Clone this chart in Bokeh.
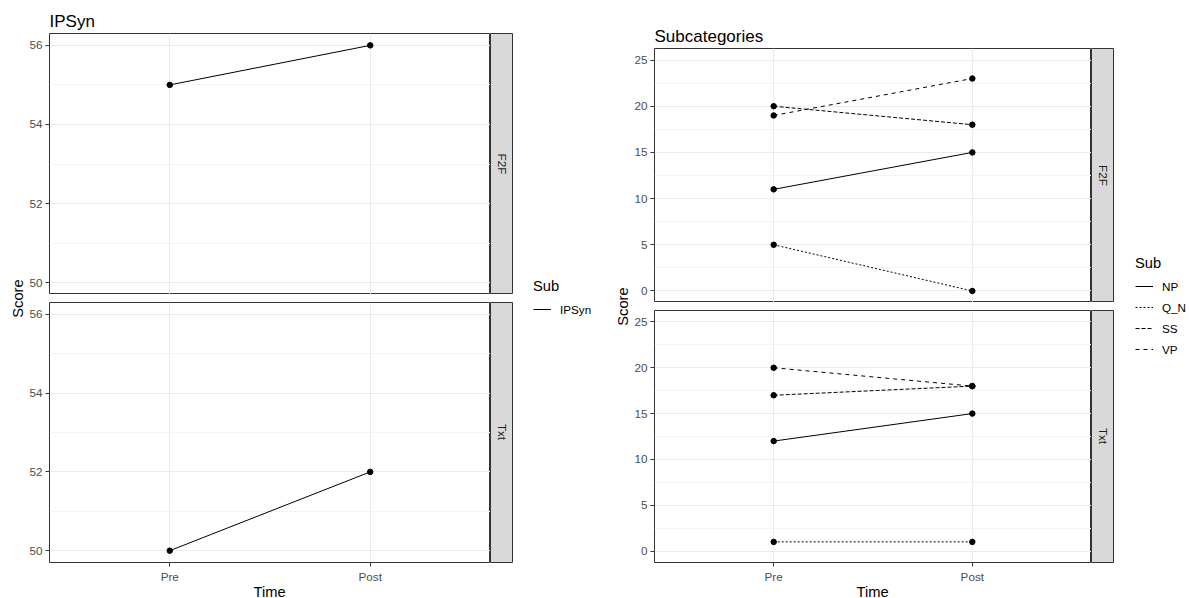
import math
from bokeh.plotting import figure
from bokeh.models import (FactorRange, Range1d, FixedTicker, Legend, LegendItem,
                          Spacer, Label)
from bokeh.layouts import row, column
from bokeh.embed import file_html
from bokeh.resources import INLINE
from bokeh.core.properties import value

# ---------------- data ----------------
times = ["Pre", "Post"]
facets = ["F2F", "Txt"]

ipsyn_f2f = [55, 56]
ipsyn_txt = [50, 52]

subs = ["NP", "Q_N", "SS", "VP"]
np_f2f = [11, 15]
np_txt = [12, 15]
qn_f2f = [5, 0]
qn_txt = [1, 1]
ss_f2f = [20, 18]
ss_txt = [17, 18]
vp_f2f = [19, 23]
vp_txt = [20, 18]

left_ticks = [50, 52, 54, 56]
left_minor = [51, 53, 55]
right_ticks = [0, 5, 10, 15, 20, 25]
right_minor = [2.5, 7.5, 12.5, 17.5, 22.5]

dashes = {"IPSyn": "solid", "NP": "solid", "Q_N": "2 2", "SS": "4 2", "VP": "4 4"}

FONT = "Liberation Sans"
LW = 1.0


def panel(w, h, yr, ticks, minor, top=0, bottom=0, left=22, show_x=False, title=None):
    p = figure(width=w, height=h,
               x_range=FactorRange(*times, range_padding=0.1, range_padding_units="absolute"),
               y_range=Range1d(*yr), output_backend="svg", toolbar_location=None, tools="",
               min_border_left=left, min_border_right=0, min_border_top=top,
               min_border_bottom=bottom, title=title)
    p.yaxis.ticker = FixedTicker(ticks=ticks, minor_ticks=minor)
    p.axis.axis_line_color = None
    p.axis.major_tick_line_color = "#333333"
    p.axis.major_tick_out = 4
    p.axis.major_tick_in = 0
    p.axis.minor_tick_line_color = None
    p.axis.major_label_text_font = FONT
    p.axis.major_label_text_font_size = "11.7px"
    p.axis.major_label_text_color = "#4D4D4D"
    p.axis.major_label_standoff = 3
    p.xgrid.grid_line_color = "#EBEBEB"
    p.ygrid.grid_line_color = "#EBEBEB"
    p.ygrid.minor_grid_line_color = "#F3F3F3"
    p.outline_line_color = "#333333"
    p.outline_line_width = 1
    p.background_fill_color = "white"
    p.border_fill_color = "white"
    if not show_x:
        p.xaxis.visible = False
    if title is not None:
        p.title.text_font = FONT
        p.title.text_font_size = "17px"
        p.title.text_font_style = "normal"
        p.title.text_color = "black"
        p.title.align = "left"
        p.title.offset = 0
        p.title.standoff = 5
    return p


def draw(p, series):
    for name, vals in series:
        p.line(x=times, y=vals, line_color="black", line_width=LW, line_dash=dashes[name])
        p.scatter(x=times, y=vals, size=5.5, color="black")


def blank(w, h):
    s = figure(width=w, height=h, x_range=Range1d(0, 1), y_range=Range1d(0, 1),
               x_axis_type=None, y_axis_type=None, output_backend="svg",
               toolbar_location=None, tools="",
               min_border_left=0, min_border_right=0, min_border_top=0, min_border_bottom=0)
    s.outline_line_color = None
    s.border_fill_color = "white"
    s.background_fill_color = "white"
    return s


def strip(h, label, top=0, bottom=0):
    s = figure(width=23, height=h, x_range=Range1d(0, 1), y_range=Range1d(0, 1),
               x_axis_type=None, y_axis_type=None, output_backend="svg",
               toolbar_location=None, tools="",
               min_border_left=0, min_border_right=0, min_border_top=top,
               min_border_bottom=bottom)
    s.background_fill_color = "#D9D9D9"
    s.border_fill_color = "white"
    s.outline_line_color = "#333333"
    s.outline_line_width = 1
    s.add_layout(Label(x=11.5, y=(h - top - bottom) / 2, x_units="screen", y_units="screen",
                       text=label, angle=-math.pi / 2, text_align="center",
                       text_baseline="middle", text_font=FONT, text_font_size="11.7px",
                       text_color="#1A1A1A"))
    return s


def text_fig(w, h, x, y, text, angle=0.0):
    s = blank(w, h)
    s.add_layout(Label(x=x, y=y, x_units="screen", y_units="screen", text=text,
                       angle=angle, text_align="center", text_baseline="middle",
                       text_font=FONT, text_font_size="14.7px", text_color="black"))
    return s


def legend_fig(w, h, names, loc):
    lg = blank(w, h)
    items = []
    for n in names:
        # legend key only: the line lies outside the visible range
        r = lg.line(x=[5, 6], y=[5, 6], line_color="black", line_width=LW, line_dash=dashes[n])
        items.append(LegendItem(label=n, renderers=[r]))
    leg = Legend(items=items, location=loc, title="Sub",
                 title_text_font=FONT, title_text_font_size="14.7px",
                 title_text_font_style="normal", title_text_color="black",
                 title_standoff=5,
                 label_text_font=FONT, label_text_font_size="11.7px",
                 label_text_color="black",
                 glyph_width=18, glyph_height=20, label_height=20, label_standoff=9,
                 spacing=1, padding=0, margin=0, border_line_color=None,
                 background_fill_alpha=0)
    lg.add_layout(leg)
    return lg


# ---------------- left plot: IPSyn ----------------
lyr = (49.7, 56.3)
LF = panel(464, 294, lyr, left_ticks, left_minor, top=33, title="IPSyn")
draw(LF, [("IPSyn", ipsyn_f2f)])
LT = panel(464, 283, lyr, left_ticks, left_minor, bottom=22, show_x=True)
draw(LT, [("IPSyn", ipsyn_txt)])
LS1 = strip(294, facets[0], top=33)
LS2 = strip(283, facets[1], bottom=22)
timeL = text_fig(487, 13, 243, 7, "Time")
left_col = column(row(LF, LS1), Spacer(width=487, height=8), row(LT, LS2), timeL)

# ---------------- right plot: Subcategories ----------------
ryr = (-1.25, 26.25)
RF = panel(460, 302, ryr, right_ticks, right_minor, top=48, title="Subcategories")
draw(RF, [("NP", np_f2f), ("Q_N", qn_f2f), ("SS", ss_f2f), ("VP", vp_f2f)])
RT = panel(460, 275, ryr, right_ticks, right_minor, bottom=22, show_x=True)
draw(RT, [("NP", np_txt), ("Q_N", qn_txt), ("SS", ss_txt), ("VP", vp_txt)])
RS1 = strip(302, facets[0], top=48)
RS2 = strip(275, facets[1], bottom=22)
timeR = text_fig(483, 13, 241, 7, "Time")
right_col = column(row(RF, RS1), Spacer(width=483, height=8), row(RT, RS2), timeR)

scoreL = text_fig(26, 598, 17, 598 - 298, "Score", angle=math.pi / 2)
scoreR = text_fig(21, 598, 12, 598 - 306, "Score", angle=math.pi / 2)

legL = legend_fig(97, 598, ["IPSyn"], (20, 598 - 319))
legR = legend_fig(75, 598, subs, (21, 598 - 359))

layout = row(scoreL, left_col, legL, scoreR, right_col, legR)

open("out.html", "w").write(file_html(layout, INLINE))
